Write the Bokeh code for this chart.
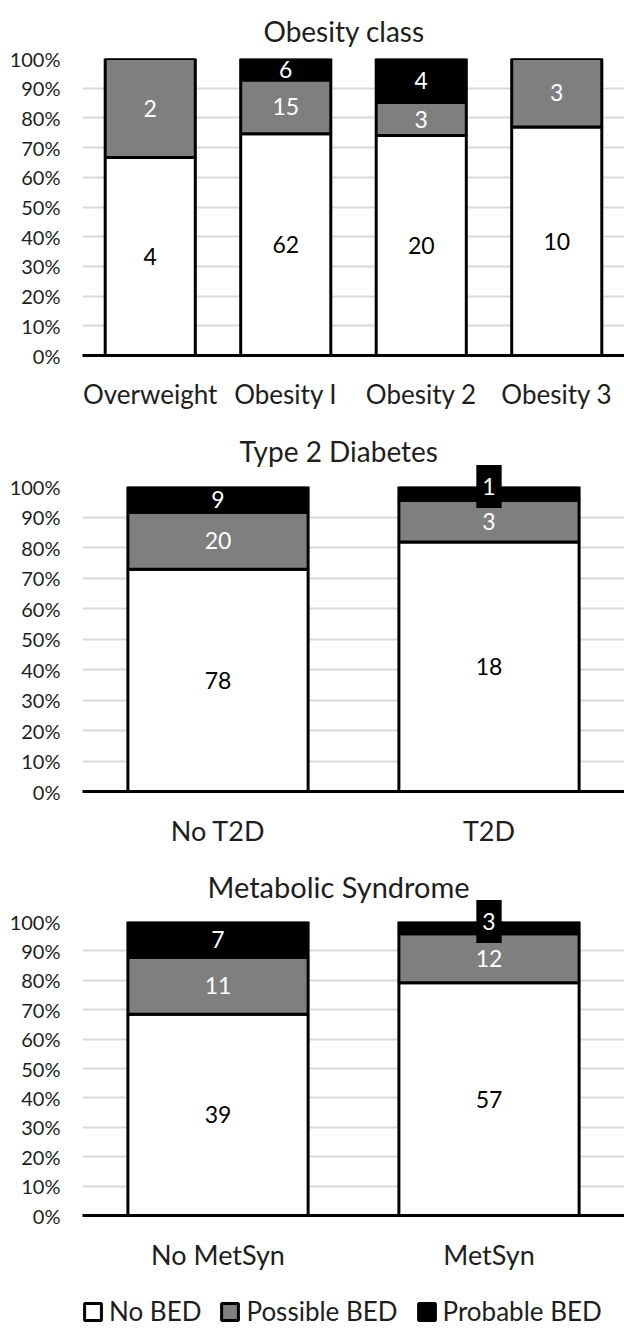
from bokeh.plotting import figure
from bokeh.layouts import column
from bokeh.models import (FactorRange, Range1d, FixedTicker, NumeralTickFormatter,
                          Legend, LegendItem, ColumnDataSource)
from bokeh.core.properties import value
from bokeh.embed import file_html
from bokeh.resources import INLINE

# ---- data (counts per segment) ----
series_names = ["No BED", "Possible BED", "Probable BED"]

ob_title = "Obesity class"
ob_cats = ["Overweight", "Obesity I", "Obesity 2", "Obesity 3"]
ob_no_bed = [4, 62, 20, 10]
ob_possible = [2, 15, 3, 3]
ob_probable = [0, 6, 4, 0]

t2d_title = "Type 2 Diabetes"
t2d_cats = ["No T2D", "T2D"]
t2d_no_bed = [78, 18]
t2d_possible = [20, 3]
t2d_probable = [9, 1]

ms_title = "Metabolic Syndrome"
ms_cats = ["No MetSyn", "MetSyn"]
ms_no_bed = [39, 57]
ms_possible = [11, 12]
ms_probable = [7, 3]

y_ticks = [0, 0.1, 0.2, 0.3, 0.4, 0.5, 0.6, 0.7, 0.8, 0.9, 1.0]

# ---- style ----
FONT = "Lato"
TXT = "#1e1e1e"
series_fill = ["white", "#7f7f7f", "black"]
label_colors = ["black", "white", "white"]


def shares(cats, counts):
    n = len(cats)
    totals = [sum(c[i] for c in counts) for i in range(n)]
    fracs = [[c[i] / totals[i] for i in range(n)] for c in counts]
    data = {"cat": cats}
    for name, f in zip(series_names, fracs):
        data[name] = f
    return fracs, ColumnDataSource(data)


def panel(title, cats, counts, H, T, B, title_standoff, title_offset,
          title_size="28px", cat_size="27px"):
    fracs, src = shares(cats, counts)

    p = figure(x_range=FactorRange(*cats), y_range=Range1d(0, 1),
               width=624, height=H, min_border_left=82, min_border_right=0,
               min_border_top=T, min_border_bottom=B,
               output_backend="svg", toolbar_location=None, title=title)
    p.title.align = "left"
    p.title.offset = title_offset
    p.title.text_font = FONT
    p.title.text_font_size = title_size
    p.title.text_font_style = "normal"
    p.title.text_color = TXT
    p.title.standoff = title_standoff
    p.outline_line_color = None
    p.background_fill_color = "white"
    p.border_fill_color = "white"

    p.xgrid.visible = False
    p.ygrid.ticker = FixedTicker(ticks=y_ticks)
    p.ygrid.grid_line_color = "#d9d9d9"
    p.ygrid.grid_line_width = 2

    p.yaxis.ticker = FixedTicker(ticks=y_ticks)
    p.yaxis.formatter = NumeralTickFormatter(format="0%")
    p.yaxis.axis_line_color = None
    p.yaxis.major_tick_line_color = None
    p.yaxis.minor_tick_line_color = None
    p.yaxis.major_tick_out = 0
    p.yaxis.major_tick_in = 0
    p.yaxis.major_label_standoff = 22
    p.yaxis.major_label_text_font = FONT
    p.yaxis.major_label_text_font_size = "20px"
    p.yaxis.major_label_text_color = TXT

    p.xaxis.axis_line_color = "black"
    p.xaxis.axis_line_width = 3
    p.xaxis.major_tick_line_color = None
    p.xaxis.major_tick_out = 0
    p.xaxis.major_tick_in = 0
    p.xaxis.major_label_standoff = 22
    p.xaxis.major_label_text_font = FONT
    p.xaxis.major_label_text_font_size = cat_size
    p.xaxis.major_label_text_color = TXT

    p.vbar_stack(series_names, x="cat", width=0.665, source=src,
                 fill_color=series_fill, line_color="black", line_width=3)

    # data labels
    lx, ly, lt, lc = [], [], [], []
    bx, by, bt = [], [], []
    for s in range(len(counts)):
        for i, cat in enumerate(cats):
            if counts[s][i] == 0:
                continue
            base = sum(fracs[k][i] for k in range(s))
            f = fracs[s][i]
            if f < 0.06:
                bx.append(cat); by.append(base + f); bt.append(str(counts[s][i]))
            else:
                lx.append(cat); ly.append(base + f / 2); lt.append(str(counts[s][i]))
                lc.append(label_colors[s])
    r1 = p.text(x=lx, y=ly, text=lt, text_color=lc, text_align="center",
                text_baseline="middle", text_font=value(FONT), text_font_size="23px")
    r1.level = "overlay"
    if bx:
        r2 = p.text(x=bx, y=by, text=bt, text_color="white", text_align="center",
                    text_baseline="middle", text_font=value(FONT), text_font_size="23px",
                    background_fill_color="black", padding=(6, 13))
        r2.level = "overlay"
    return p


p1 = panel(ob_title, ob_cats, [ob_no_bed, ob_possible, ob_probable],
           H=412, T=58, B=56, title_standoff=21, title_offset=181, cat_size="26px")
p2 = panel(t2d_title, t2d_cats, [t2d_no_bed, t2d_possible, t2d_probable],
           H=437, T=74, B=55, title_standoff=37, title_offset=157)
p3 = panel(ms_title, ms_cats, [ms_no_bed, ms_possible, ms_probable],
           H=424, T=72, B=56, title_standoff=35, title_offset=125, title_size="29px")

# legend strip: legend proxies use the MetSyn shares on a numeric range,
# so the bars themselves are not drawn; only the legend shows their style
_, lsrc = shares(ms_cats, [ms_no_bed, ms_possible, ms_probable])
p4 = figure(width=624, height=55, min_border_left=82, min_border_right=0,
            min_border_top=0, min_border_bottom=0, x_range=Range1d(0, 1),
            y_range=Range1d(20, 21), x_axis_type=None, y_axis_type=None,
            output_backend="svg", toolbar_location=None)
p4.title.visible = False
p4.grid.visible = False
p4.outline_line_color = None
lrs = p4.vbar_stack(series_names, x="cat", width=0.665, source=lsrc,
                    fill_color=series_fill, line_color="black", line_width=3)
lg = Legend(items=[LegendItem(label=nm, renderers=[r]) for nm, r in zip(series_names, lrs)],
            orientation="horizontal", location=(0, 1),
            glyph_width=21, glyph_height=21, label_standoff=6, spacing=18,
            padding=0, margin=0, border_line_color=None, background_fill_alpha=0,
            label_text_font=FONT, label_text_font_size="26px", label_text_color=TXT)
p4.add_layout(lg, "center")

layout = column(p1, p2, p3, p4, spacing=0)
open("out.html", "w").write(file_html(layout, INLINE))
